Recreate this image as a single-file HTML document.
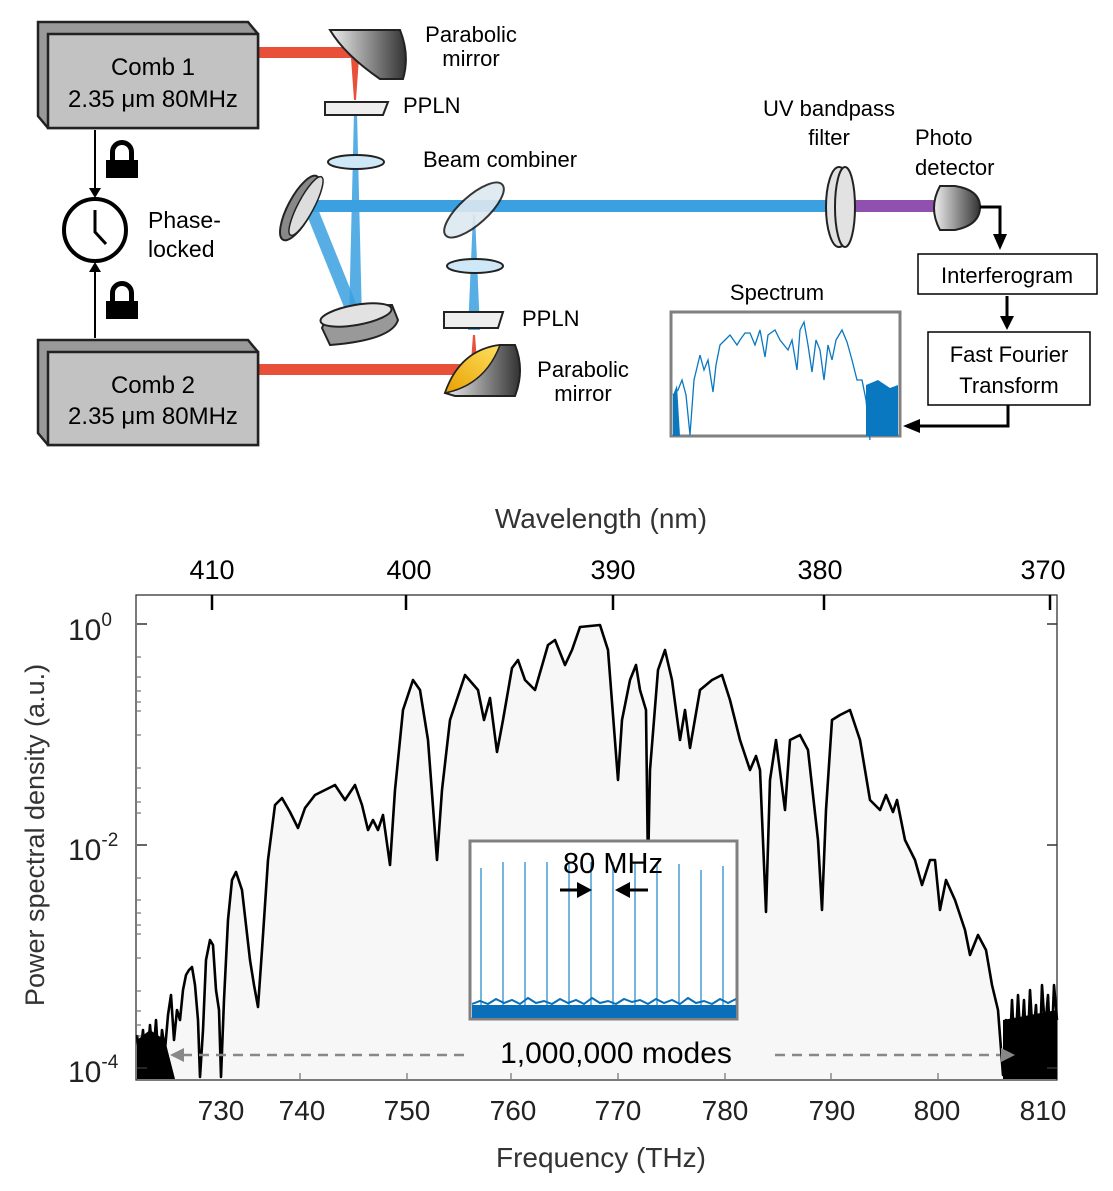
<!DOCTYPE html>
<html><head><meta charset="utf-8"><style>
body{margin:0;background:#fff}
svg text{font-family:"Liberation Sans",sans-serif}
</style></head><body>
<svg width="1113" height="1186" viewBox="0 0 1113 1186" xmlns="http://www.w3.org/2000/svg">
<defs>
<linearGradient id="mg" x1="0" y1="0" x2="1" y2="0"><stop offset="0" stop-color="#eee"/><stop offset="1" stop-color="#333"/></linearGradient>
<linearGradient id="yg" x1="0" y1="1" x2="1" y2="0"><stop offset="0" stop-color="#e8a000"/><stop offset="1" stop-color="#ffe060"/></linearGradient>
</defs>
<!-- beams -->
<rect x="258" y="47" width="100" height="11" fill="#e8503a"/>
<polygon points="351,58 359,58 356,100 354,100" fill="#e8503a"/>
<polygon points="354,112 357,112 362,320 349,320" fill="#3aa0e0" opacity="0.85"/>
<rect x="258" y="364" width="215" height="11" fill="#e8503a"/>
<polygon points="470,375 478,375 475,335 473,335" fill="#e8503a"/>
<polygon points="468,330 480,330 475,215 473,215" fill="#3aa0e0" opacity="0.85"/>
<rect x="306" y="200" width="530" height="12" fill="#3aa0e0"/>
<rect x="836" y="200" width="100" height="12" fill="#9050b0"/>
<polygon points="304,208 316,204 362,318 350,322" fill="#3aa0e0" opacity="0.85"/>
<!-- Comb boxes -->
<g stroke="#222" stroke-width="2.5">
<polygon points="38,22 248,22 258,34 258,128 48,128 38,116" fill="#999"/>
<rect x="48" y="34" width="210" height="94" fill="#c2c2c2"/>
<polygon points="38,340 248,340 258,352 258,445 48,445 38,433" fill="#999"/>
<rect x="48" y="352" width="210" height="93" fill="#c2c2c2"/>
</g>
<text x="153" y="75" font-size="24" text-anchor="middle">Comb 1</text>
<text x="153" y="107" font-size="24" text-anchor="middle">2.35 μm 80MHz</text>
<text x="153" y="393" font-size="24" text-anchor="middle">Comb 2</text>
<text x="153" y="424" font-size="24" text-anchor="middle">2.35 μm 80MHz</text>
<!-- locks and clock -->
<line x1="95" y1="130" x2="95" y2="190" stroke="#000" stroke-width="2"/><polygon points="89,188 101,188 95,198" fill="#000"/>
<line x1="95" y1="338" x2="95" y2="270" stroke="#000" stroke-width="2"/><polygon points="89,272 101,272 95,262" fill="#000"/>
<g fill="#000"><path d="M110,162 v-10 a12,12 0 0 1 24,0 v10 h-5 v-10 a7,7 0 0 0 -14,0 v10z"/><rect x="106" y="160" width="32" height="18"/>
<path d="M110,303 v-10 a12,12 0 0 1 24,0 v10 h-5 v-10 a7,7 0 0 0 -14,0 v10z"/><rect x="106" y="301" width="32" height="18"/></g>
<circle cx="95" cy="230" r="31" fill="#fff" stroke="#000" stroke-width="4"/>
<polyline points="95,210 95,232 106,244" fill="none" stroke="#000" stroke-width="3"/>
<text x="148" y="228" font-size="23">Phase-</text><text x="148" y="257" font-size="23">locked</text>
<!-- optics -->
<path d="M330,30 L400,30 Q410,55 403,79 L380,79 Q345,55 330,30z" fill="url(#mg)" stroke="#222" stroke-width="2"/>
<polygon points="325,102 388,102 383,115 325,115" fill="#eee" stroke="#222" stroke-width="2"/>
<polygon points="444,312 503,312 498,328 444,328" fill="#eee" stroke="#222" stroke-width="2"/>
<path d="M445,393 Q460,350 500,345 L515,345 Q525,370 515,396 L455,396z" fill="url(#mg)" stroke="#222" stroke-width="2"/>
<path d="M445,393 Q460,350 500,345 Q485,385 445,393z" fill="url(#yg)" stroke="#222" stroke-width="1.5"/>
<ellipse cx="356" cy="162" rx="28" ry="7" fill="#cfe8f8" stroke="#222" stroke-width="2"/>
<ellipse cx="475" cy="266" rx="28" ry="7" fill="#cfe8f8" stroke="#222" stroke-width="2"/>
<ellipse cx="300" cy="208" rx="12" ry="36" transform="rotate(28 300 208)" fill="#888" stroke="#222" stroke-width="2"/>
<ellipse cx="306" cy="206" rx="8" ry="33" transform="rotate(28 306 206)" fill="#ddd" stroke="#222" stroke-width="1.5"/>
<ellipse cx="474" cy="210" rx="14" ry="38" transform="rotate(48 474 210)" fill="#dde8f0" stroke="#222" stroke-width="2" opacity="0.9"/>
<path d="M322,328 Q330,305 392,305 L398,320 Q392,340 330,345z" fill="#999" stroke="#222" stroke-width="2"/>
<ellipse cx="356" cy="315" rx="36" ry="10" transform="rotate(-10 356 315)" fill="#e2e2e2" stroke="#222" stroke-width="2"/>
<ellipse cx="839" cy="207" rx="13" ry="40" fill="#e2e2e2" stroke="#222" stroke-width="2"/>
<ellipse cx="845" cy="207" rx="10" ry="40" fill="#e2e2e2" stroke="#222" stroke-width="2"/>
<path d="M940,186 L955,186 Q980,190 980,207 Q980,225 955,230 L940,230 Q928,208 940,186z" fill="url(#mg)" stroke="#222" stroke-width="2"/>
<polyline points="980,207 1000,207 1000,236" fill="none" stroke="#000" stroke-width="3"/><polygon points="993,234 1007,234 1000,250" fill="#000"/>
<text x="471" y="42" font-size="22" text-anchor="middle">Parabolic</text><text x="471" y="66" font-size="22" text-anchor="middle">mirror</text>
<text x="403" y="113" font-size="22">PPLN</text>
<text x="423" y="167" font-size="22">Beam combiner</text>
<text x="522" y="326" font-size="22">PPLN</text>
<text x="583" y="377" font-size="22" text-anchor="middle">Parabolic</text><text x="583" y="401" font-size="22" text-anchor="middle">mirror</text>
<text x="829" y="116" font-size="22" text-anchor="middle">UV bandpass</text><text x="829" y="145" font-size="22" text-anchor="middle">filter</text>
<text x="915" y="145" font-size="22">Photo</text><text x="915" y="175" font-size="22">detector</text>
<rect x="918" y="254" width="179" height="40" fill="#fff" stroke="#000" stroke-width="1.5"/>
<text x="1007" y="283" font-size="22" text-anchor="middle">Interferogram</text>
<line x1="1007" y1="296" x2="1007" y2="318" stroke="#000" stroke-width="3"/><polygon points="1000,316 1014,316 1007,330" fill="#000"/>
<rect x="928" y="332" width="162" height="73" fill="#fff" stroke="#000" stroke-width="1.5"/>
<text x="1009" y="362" font-size="22" text-anchor="middle">Fast Fourier</text><text x="1009" y="393" font-size="22" text-anchor="middle">Transform</text>
<polyline points="1008,405 1008,426 918,426" fill="none" stroke="#000" stroke-width="3"/><polygon points="903,426 920,419 920,433" fill="#000"/>
<text x="777" y="300" font-size="22" text-anchor="middle">Spectrum</text>
<rect x="671" y="312" width="229" height="124" fill="#fff" stroke="#808080" stroke-width="3"/>
<polyline fill="none" stroke="#0a78c0" stroke-width="1.3" points="673,395 678,390 682,380 686,395 690,435 694,380 700,355 704,370 708,360 713,392 716,365 720,345 725,340 730,335 737,345 740,340 745,333 750,333 755,345 760,330 765,357 768,335 775,330 780,340 788,350 792,340 797,370 800,330 804,322 808,345 812,372 816,340 820,350 824,380 828,345 832,360 836,340 842,330 847,342 852,360 857,380 862,380 866,400 870,440"/>
<polygon fill="#0a78c0" points="673,395 677,385 680,436 673,436"/><polygon fill="#0a78c0" points="866,385 878,380 890,388 898,385 898,436 866,436"/>
<!-- PLOT -->
<rect x="136" y="595" width="921" height="485" fill="#fff" stroke="#333" stroke-width="1.3"/>
<polygon fill="#f7f7f7" points="137,1079 137,1035 140,1060 143,1030 146,1075 150,1025 153,1060 156,1020 159,1070 162,1030 165,1050 168,1015 171,995 174,1040 177,1010 180,1020 183,990 186,975 189,970 192,967 195,985 198,1020 200,1077 203,1030 206,960 210,940 213,945 216,990 219,1010 221,1077 224,1000 228,920 232,880 236,872 242,890 250,960 254,985 258,1007 262,950 268,860 275,805 282,798 290,812 298,828 305,808 315,795 335,785 345,800 355,785 362,805 368,830 373,820 378,830 383,815 390,865 395,790 403,710 413,680 420,690 428,740 437,860 442,790 450,720 465,675 478,690 484,720 490,698 497,752 503,720 512,668 518,660 525,680 535,690 548,645 555,640 565,665 572,650 580,627 600,625 608,650 618,780 622,720 630,680 636,665 640,690 646,710 648,870 650,770 658,670 665,650 672,680 680,740 685,710 690,748 700,690 712,680 722,675 730,700 740,740 750,770 756,756 760,770 766,912 770,780 776,740 785,810 790,740 800,735 808,750 818,840 822,910 826,810 832,720 840,715 850,710 860,740 870,800 880,810 886,795 893,812 897,800 905,840 915,860 922,885 930,860 935,860 940,910 946,880 955,900 965,930 970,955 978,935 986,950 992,985 998,1010 1003,1075 1006,1020 1009,1070 1012,1000 1015,1060 1018,995 1021,1050 1024,1000 1027,1065 1030,990 1033,1040 1036,1005 1039,1070 1042,985 1045,1030 1048,995 1051,1060 1054,985 1057,1020 1057,1079"/>
<polyline fill="none" stroke="#000" stroke-width="2.6" stroke-linejoin="round" points="137,1035 140,1060 143,1030 146,1075 150,1025 153,1060 156,1020 159,1070 162,1030 165,1050 168,1015 171,995 174,1040 177,1010 180,1020 183,990 186,975 189,970 192,967 195,985 198,1020 200,1077 203,1030 206,960 210,940 213,945 216,990 219,1010 221,1077 224,1000 228,920 232,880 236,872 242,890 250,960 254,985 258,1007 262,950 268,860 275,805 282,798 290,812 298,828 305,808 315,795 335,785 345,800 355,785 362,805 368,830 373,820 378,830 383,815 390,865 395,790 403,710 413,680 420,690 428,740 437,860 442,790 450,720 465,675 478,690 484,720 490,698 497,752 503,720 512,668 518,660 525,680 535,690 548,645 555,640 565,665 572,650 580,627 600,625 608,650 618,780 622,720 630,680 636,665 640,690 646,710 648,870 650,770 658,670 665,650 672,680 680,740 685,710 690,748 700,690 712,680 722,675 730,700 740,740 750,770 756,756 760,770 766,912 770,780 776,740 785,810 790,740 800,735 808,750 818,840 822,910 826,810 832,720 840,715 850,710 860,740 870,800 880,810 886,795 893,812 897,800 905,840 915,860 922,885 930,860 935,860 940,910 946,880 955,900 965,930 970,955 978,935 986,950 992,985 998,1010 1003,1075 1006,1020 1009,1070 1012,1000 1015,1060 1018,995 1021,1050 1024,1000 1027,1065 1030,990 1033,1040 1036,1005 1039,1070 1042,985 1045,1030 1048,995 1051,1060 1054,985 1057,1020"/>
<polygon fill="#000" points="137,1079 137,1040 150,1030 165,1040 175,1079"/><polygon fill="#000" points="1003,1079 1003,1020 1057,1010 1057,1079"/>
<!-- ticks -->
<g stroke="#333" stroke-width="1.5">
<line x1="137" y1="624" x2="147" y2="624"/><line x1="137" y1="845" x2="147" y2="845"/><line x1="137" y1="1068" x2="147" y2="1068"/>
<line x1="1057" y1="624" x2="1047" y2="624"/><line x1="1057" y1="845" x2="1047" y2="845"/><line x1="1057" y1="1068" x2="1047" y2="1068"/>
</g>
<g stroke="#555" stroke-width="1">
<line x1="300" y1="1079" x2="300" y2="1073"/><line x1="407" y1="1079" x2="407" y2="1073"/><line x1="511" y1="1079" x2="511" y2="1073"/><line x1="618" y1="1079" x2="618" y2="1073"/><line x1="725" y1="1079" x2="725" y2="1073"/><line x1="831" y1="1079" x2="831" y2="1073"/><line x1="938" y1="1079" x2="938" y2="1073"/>
<line x1="137" y1="657" x2="141" y2="657"/><line x1="137" y1="677" x2="141" y2="677"/><line x1="137" y1="691" x2="141" y2="691"/><line x1="137" y1="702" x2="141" y2="702"/><line x1="137" y1="711" x2="141" y2="711"/>
<line x1="137" y1="735" x2="141" y2="735"/><line x1="137" y1="768" x2="141" y2="768"/><line x1="137" y1="788" x2="141" y2="788"/><line x1="137" y1="802" x2="141" y2="802"/><line x1="137" y1="813" x2="141" y2="813"/>
<line x1="137" y1="878" x2="141" y2="878"/><line x1="137" y1="900" x2="141" y2="900"/><line x1="137" y1="913" x2="141" y2="913"/><line x1="137" y1="925" x2="141" y2="925"/><line x1="137" y1="934" x2="141" y2="934"/>
<line x1="137" y1="958" x2="141" y2="958"/><line x1="137" y1="991" x2="141" y2="991"/><line x1="137" y1="1011" x2="141" y2="1011"/><line x1="137" y1="1025" x2="141" y2="1025"/><line x1="137" y1="1036" x2="141" y2="1036"/>
</g>
<g stroke="#000" stroke-width="2.5"><line x1="212" y1="595" x2="212" y2="610"/><line x1="406" y1="595" x2="406" y2="610"/><line x1="613" y1="595" x2="613" y2="610"/><line x1="824" y1="595" x2="824" y2="610"/><line x1="1050" y1="595" x2="1050" y2="610"/></g>
<g font-size="27" text-anchor="middle"><text x="212" y="579">410</text><text x="409" y="579">400</text><text x="613" y="579">390</text><text x="820" y="579">380</text><text x="1043" y="579">370</text></g>
<text x="601" y="528" font-size="28" fill="#333" text-anchor="middle">Wavelength (nm)</text>
<g font-size="28" fill="#222" text-anchor="middle"><text x="221" y="1120">730</text><text x="302" y="1120">740</text><text x="407" y="1120">750</text><text x="513" y="1120">760</text><text x="618" y="1120">770</text><text x="725" y="1120">780</text><text x="832" y="1120">790</text><text x="937" y="1120">800</text><text x="1043" y="1120">810</text></g>
<text x="601" y="1167" font-size="28" fill="#333" text-anchor="middle">Frequency (THz)</text>
<g font-size="30" fill="#222"><text x="68" y="640">10<tspan font-size="19" dy="-14">0</tspan></text><text x="68" y="860">10<tspan font-size="19" dy="-14">-2</tspan></text><text x="68" y="1082">10<tspan font-size="19" dy="-14">-4</tspan></text></g>
<text transform="translate(44,835) rotate(-90)" font-size="27" fill="#333" text-anchor="middle">Power spectral density (a.u.)</text>
<!-- dashed arrow -->
<line x1="182" y1="1055" x2="470" y2="1055" stroke="#888" stroke-width="2.5" stroke-dasharray="10,7"/>
<line x1="775" y1="1055" x2="1000" y2="1055" stroke="#888" stroke-width="2.5" stroke-dasharray="10,7"/>
<polygon points="170,1055 184,1048 184,1062" fill="#888"/><polygon points="1015,1055 1001,1048 1001,1062" fill="#888"/>
<text x="616" y="1063" font-size="30" text-anchor="middle">1,000,000 modes</text>
<!-- inset -->
<rect x="470" y="841" width="267" height="178" fill="#fff" stroke="#808080" stroke-width="3"/>
<g stroke="#2a8ed0" stroke-width="1.3">
<line x1="481" y1="868" x2="481" y2="1005"/><line x1="503" y1="862" x2="503" y2="1005"/><line x1="525" y1="862" x2="525" y2="1005"/><line x1="547" y1="862" x2="547" y2="1005"/><line x1="569" y1="862" x2="569" y2="1005"/><line x1="591" y1="862" x2="591" y2="1005"/><line x1="613" y1="862" x2="613" y2="1005"/><line x1="635" y1="862" x2="635" y2="1005"/><line x1="657" y1="862" x2="657" y2="1005"/><line x1="679" y1="864" x2="679" y2="1005"/><line x1="701" y1="870" x2="701" y2="1005"/><line x1="723" y1="866" x2="723" y2="1005"/>
</g>
<rect x="472" y="1005" width="264" height="13" fill="#0a6eb8"/>
<polyline fill="none" stroke="#0a6eb8" stroke-width="2" points="472,1004 480,1001 488,1004 496,999 504,1003 512,1000 520,1004 528,998 536,1003 544,1001 552,1004 560,999 568,1003 576,1000 584,1004 592,998 600,1003 608,1001 616,1004 624,999 632,1002 640,1000 648,1004 656,999 664,1003 672,1000 680,1004 688,998 696,1003 704,1001 712,1004 720,999 728,1003 736,999"/>
<text x="613" y="873" font-size="29" text-anchor="middle">80 MHz</text>
<line x1="560" y1="890" x2="578" y2="890" stroke="#000" stroke-width="3"/><polygon points="592,890 577,882 577,898" fill="#000"/>
<line x1="630" y1="890" x2="648" y2="890" stroke="#000" stroke-width="3"/><polygon points="615,890 630,882 630,898" fill="#000"/>
</svg>
</body></html>
